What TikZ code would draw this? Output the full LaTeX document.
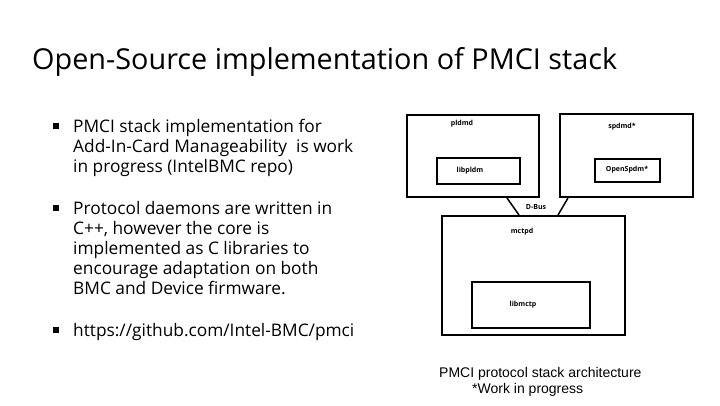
\documentclass[tikz,border=0pt]{standalone}
\usepackage{fontspec}
\setmainfont{Open Sans}
\newfontfamily\capfont{Liberation Sans}
\begin{document}
\begin{tikzpicture}[x=1pt,y=-1pt,
  box/.style={draw,line width=2pt},
  lbl/.style={font=\fontsize{7}{8}\selectfont\bfseries,inner sep=0pt},
  bl/.style={anchor=base west,inner sep=0pt,font=\fontsize{17.3}{20}\selectfont},
  bul/.style={fill,minimum size=6pt,inner sep=0pt}]
\useasboundingbox (0,0) rectangle (720,405);
\node[anchor=base west,inner sep=0pt,font=\fontsize{28.8}{32}\selectfont] (title) at (32,69) {Open-Source implementation of PMCI stack};
\foreach \y/\n in {126/s1,208/s2,330/s3} \node[bul] (\n) at (56,\y) {};
\node[bl] (a1) at (73,132) {PMCI stack implementation for};
\node[bl] (a2) at (73,152) {Add-In-Card Manageability\ \ is work};
\node[bl] (a3) at (73,172) {in progress (IntelBMC repo)};
\node[bl] (b1) at (73,214) {Protocol daemons are written in};
\node[bl] (b2) at (73,234) {C++, however the core is};
\node[bl] (b3) at (73,254) {implemented as C libraries to};
\node[bl] (b4) at (73,274) {encourage adaptation on both};
\node[bl] (b5) at (73,294) {BMC and Device firmware.};
\node[bl] (c1) at (73,336) {https://github.com/Intel-BMC/pmci};
\draw[box] (407,115) rectangle (539,197);
\draw[box] (437,158) rectangle (520,184);
\draw[box] (560,114) rectangle (693,197);
\draw[box] (595,159) rectangle (660,182);
\draw[box] (442,216) rectangle (625,335);
\draw[box] (472,282) rectangle (590,328);
\coordinate (p1) at (507,198); \coordinate (m1) at (519,215);
\coordinate (p2) at (568,198); \coordinate (m2) at (558,215);
\draw[line width=1.5pt] (p1) -- (m1);
\draw[line width=1.5pt] (p2) -- (m2);
\node[lbl] (n1) at (462,124) {pldmd};
\node[lbl] (n2) at (622,127) {spdmd*};
\node[lbl] (n3) at (470,171) {libpldm};
\node[lbl] (n4) at (627,170) {OpenSpdm*};
\node[lbl] (n5) at (536,207) {D-Bus};
\node[lbl] (n6) at (522,232) {mctpd};
\node[lbl] (n7) at (523,305) {libmctp};
\node[anchor=west,inner sep=0pt,font=\capfont\fontsize{14}{16}\selectfont] (cap1) at (439,374) {PMCI protocol stack architecture};
\node[anchor=west,inner sep=0pt,font=\capfont\fontsize{14}{16}\selectfont] (cap2) at (472,390) {*Work in progress};
\end{tikzpicture}
\end{document}
